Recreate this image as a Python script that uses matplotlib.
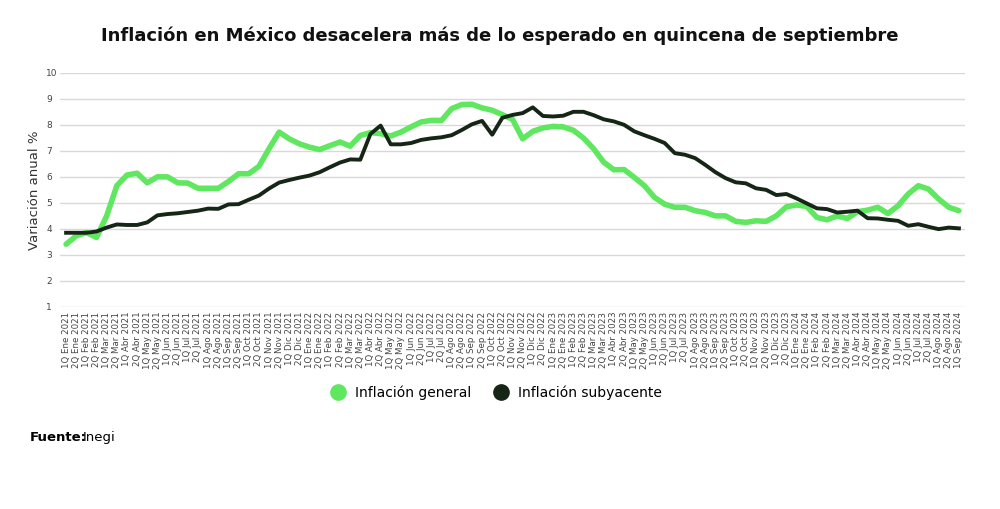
import numpy as np
import matplotlib.pyplot as plt

meses = ["Ene", "Feb", "Mar", "Abr", "May", "Jun", "Jul", "Ago", "Sep", "Oct", "Nov", "Dic"]
etiquetas = []
for anio in [2021, 2022, 2023, 2024]:
    for m in meses:
        for q in ["1Q", "2Q"]:
            etiquetas.append(f"{q} {m} {anio}")
etiquetas = etiquetas[:etiquetas.index("1Q Sep 2024") + 1]

general = [3.41, 3.73, 3.86, 3.67, 4.5, 5.66, 6.07, 6.14, 5.77, 6.0, 6.0, 5.77, 5.76, 5.56, 5.56, 5.56,
           5.82, 6.12, 6.12, 6.4, 7.08, 7.72, 7.46, 7.27, 7.14, 7.05, 7.2, 7.34, 7.18, 7.59, 7.7, 7.66,
           7.57, 7.72, 7.92, 8.11, 8.17, 8.17, 8.62, 8.78, 8.79, 8.65, 8.56, 8.39, 8.21, 7.46, 7.75, 7.88,
           7.94, 7.92, 7.79, 7.49, 7.08, 6.56, 6.27, 6.28, 5.98, 5.66, 5.21, 4.95, 4.83, 4.83, 4.7, 4.63,
           4.5, 4.5, 4.29, 4.25, 4.31, 4.29, 4.5, 4.85, 4.92, 4.86, 4.44, 4.35, 4.5, 4.4, 4.66, 4.72,
           4.83, 4.59, 4.89, 5.34, 5.66, 5.53, 5.15, 4.83, 4.7]
subyacente = [3.85, 3.85, 3.85, 3.9, 4.05, 4.17, 4.15, 4.15, 4.25, 4.52, 4.57, 4.6, 4.65, 4.7, 4.78, 4.77,
              4.94, 4.95, 5.12, 5.28, 5.55, 5.78, 5.88, 5.97, 6.05, 6.18, 6.37, 6.55, 6.67, 6.66, 7.65, 7.97,
              7.25, 7.25, 7.3, 7.42, 7.48, 7.52, 7.6, 7.8, 8.02, 8.15, 7.62, 8.27, 8.38, 8.45, 8.67, 8.34,
              8.32, 8.35, 8.5, 8.5, 8.37, 8.21, 8.13, 8.0, 7.75, 7.6, 7.46, 7.3, 6.91, 6.85, 6.72, 6.46,
              6.18, 5.95, 5.79, 5.75, 5.56, 5.5, 5.3, 5.34, 5.17, 4.98, 4.79, 4.76, 4.63, 4.66, 4.7, 4.41,
              4.4, 4.35, 4.31, 4.12, 4.18, 4.08, 3.99, 4.05, 4.02, 4.02, 3.96]
subyacente = subyacente[:len(etiquetas)]
general = general[:len(etiquetas)]

verde = "#5fe85f"
oscuro = "#162616"
x = np.arange(len(etiquetas))

fig = plt.figure(figsize=(10, 5.09), dpi=100)
ax = fig.add_axes([0.06, 0.397, 0.905, 0.46])
ax.plot(x, general, color=verde, lw=4, solid_capstyle="round", label="Inflación general")
ax.plot(x, subyacente, color=oscuro, lw=2.8, label="Inflación subyacente")
ax.set_ylim(1, 10)
ax.set_xlim(-0.6, len(etiquetas) - 0.4)
ax.set_yticks(range(1, 11))
ax.grid(axis="y", color="#d9d9d9", lw=1)
ax.set_axisbelow(True)
for s in ax.spines.values():
    s.set_visible(False)
ax.tick_params(length=0, labelsize=6.5, colors="#444444")
ax.set_xticks(x)
ax.set_xticklabels(etiquetas, rotation=90, fontsize=6.2)
ax.set_ylabel("Variación anual %", fontsize=9.5, color="#333333", labelpad=4)
for lbl in ax.get_yticklabels():
    lbl.set_horizontalalignment("left")
ax.tick_params(axis="y", pad=10)

fig.text(0.5, 0.93, "Inflación en México desacelera más de lo esperado en quincena de septiembre",
         ha="center", va="center", fontsize=13, fontweight="bold", color="#111111")
leg = fig.legend(loc="center", bbox_to_anchor=(0.5, 0.228), ncol=2, frameon=False,
                 fontsize=10, handlelength=0, handletextpad=1.2, columnspacing=2.2)
for h, c in zip(leg.legend_handles, [verde, oscuro]):
    h.set_marker("o")
    h.set_markersize(11)
    h.set_markerfacecolor(c)
    h.set_markeredgecolor(c)
    h.set_linestyle("")
fig.text(0.03, 0.141, "Fuente:", fontsize=9.5, fontweight="bold", va="center")
fig.text(0.083, 0.141, "Inegi", fontsize=9.5, va="center")
fig.savefig("out.png", dpi=100, facecolor="white")
